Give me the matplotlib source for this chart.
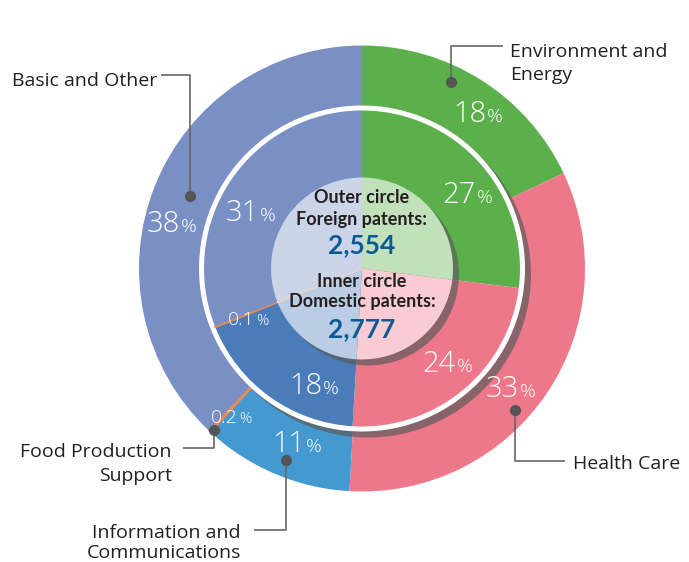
import numpy as np
import matplotlib
matplotlib.use('Agg')
import matplotlib.pyplot as plt
from matplotlib.patches import Circle
from matplotlib.colors import to_rgb

plt.rcParams['font.family'] = ['Open Sans', 'DejaVu Sans']

# categories, clockwise from 12 o'clock
categories = ['Environment and Energy', 'Health Care', 'Information and Communications',
              'Food Production Support', 'Basic and Other']
outer_pct = [18, 33, 11, 0.2, 38]     # foreign patents
inner_pct = [27, 24, 18, 0.1, 31]     # domestic patents
outer_labels = ['18', '33', '11', '0.2', '38']
inner_labels = ['27', '24', '18', '0.1', '31']
foreign_total = '2,554'
domestic_total = '2,777'

outer_colors = ['#5cb04c', '#ec7889', '#4499d0', '#f08a4c', '#7a8fc3']
inner_colors = ['#5cb04c', '#ec7889', '#4a7cba', '#f08a4c', '#7a8fc3']


def light(c, k=0.62):
    r = np.array(to_rgb(c))
    return tuple(r + (1 - r) * k)


center_colors = [light(c) for c in inner_colors]

W, H = 689, 562
fig = plt.figure(figsize=(W / 100, H / 100), dpi=100)
ax = fig.add_axes([0, 0, 1, 1])


def Y(y):
    return H - y


cx, cy = 362, Y(268.5)
R_out, R_white, R_in, R_c = 223, 163, 158, 91
shadow_dx, shadow_dy = 6, -6

wo, _ = ax.pie(outer_pct, radius=R_out, center=(cx, cy), startangle=90, counterclock=False,
               colors=outer_colors, wedgeprops=dict(linewidth=0))
wo[3].set_edgecolor(outer_colors[3])
wo[3].set_linewidth(1.0)

# shadow + white ring behind the inner pie
ax.add_patch(Circle((cx + shadow_dx, cy + shadow_dy), R_white, color='#5c5c5c', alpha=0.7, lw=0))
ax.add_patch(Circle((cx, cy), R_white, color='white', lw=0))

wi, _ = ax.pie(inner_pct, radius=R_in, center=(cx, cy), startangle=90, counterclock=False,
               colors=inner_colors, wedgeprops=dict(linewidth=0))
wi[3].set_edgecolor(inner_colors[3])
wi[3].set_linewidth(1.2)

ax.add_patch(Circle((cx + shadow_dx, cy + shadow_dy), R_c, color='#5c5c5c', alpha=0.7, lw=0))
wc, _ = ax.pie(inner_pct, radius=R_c, center=(cx, cy), startangle=90, counterclock=False,
               colors=center_colors, wedgeprops=dict(linewidth=0))
wc[3].set_edgecolor(center_colors[3])
wc[3].set_linewidth(1.0)

ax.set_xlim(0, W)
ax.set_ylim(0, H)
ax.set_aspect('equal')
ax.axis('off')

# percentage labels: (split x, baseline y, big size, small size)
outer_pos = [(486, 122, 21, 14), (519, 397, 21, 14), (305, 452, 21, 14),
             (238, 423, 14, 11), (180, 232, 21, 14)]
inner_pos = [(476, 203, 21, 14), (456, 372, 21, 14), (322, 394, 21, 14),
             (255, 325, 14, 11), (259, 221, 21, 14)]
for labels, pos in ((outer_labels, outer_pos), (inner_labels, inner_pos)):
    for lab, (x, y, s1, s2) in zip(labels, pos):
        ax.text(x, Y(y), lab, color='white', fontsize=s1, ha='right', va='baseline',
                fontweight='light')
        ax.text(x + 1, Y(y), '%', color='white', fontsize=s2, ha='left', va='baseline',
                fontweight='light')

# leader lines
lc = '#666666'
leaders = {
    'Basic and Other': [(161, 75), (190, 75), (190, 196)],
    'Environment and Energy': [(503, 46), (451, 46), (451, 82)],
    'Health Care': [(565, 461), (515, 461), (515, 410)],
    'Food Production Support': [(183, 448), (214, 448), (214, 430)],
    'Information and Communications': [(254, 530), (286, 530), (286, 460)],
}
for pts in leaders.values():
    xs = [p[0] for p in pts]
    ys = [Y(p[1]) for p in pts]
    ax.plot(xs, ys, color=lc, lw=1.2, solid_capstyle='butt')
    ax.plot(xs[-1], ys[-1], 'o', color='#555555', ms=7)

tc = '#231f20'
fs = 14
ax.text(12, Y(86), 'Basic and Other', fontsize=fs, color=tc, ha='left', va='baseline')
ax.text(510, Y(57), 'Environment and', fontsize=fs, color=tc, ha='left', va='baseline')
ax.text(510, Y(80), 'Energy', fontsize=fs, color=tc, ha='left', va='baseline')
ax.text(573, Y(469), 'Health Care', fontsize=fs, color=tc, ha='left', va='baseline')
ax.text(172, Y(457), 'Food Production', fontsize=fs, color=tc, ha='right', va='baseline')
ax.text(172, Y(481), 'Support', fontsize=fs, color=tc, ha='right', va='baseline')
ax.text(241, Y(538), 'Information and', fontsize=fs, color=tc, ha='right', va='baseline')
ax.text(241, Y(558), 'Communications', fontsize=fs, color=tc, ha='right', va='baseline')

# center text
cf = ['Lato', 'DejaVu Sans']
blue = '#0b5a96'
ax.text(362, Y(203), 'Outer circle', family=cf, fontsize=13, fontweight='bold', color=tc,
        ha='center', va='baseline')
ax.text(362, Y(225), 'Foreign patents:', family=cf, fontsize=13, fontweight='bold', color=tc,
        ha='center', va='baseline')
ax.text(362, Y(253), foreign_total, family=cf, fontsize=19, fontweight='bold', color=blue,
        ha='center', va='baseline')
ax.text(362, Y(287), 'Inner circle', family=cf, fontsize=13, fontweight='bold', color=tc,
        ha='center', va='baseline')
ax.text(362, Y(307), 'Domestic patents:', family=cf, fontsize=13, fontweight='bold', color=tc,
        ha='center', va='baseline')
ax.text(362, Y(337), domestic_total, family=cf, fontsize=19, fontweight='bold', color=blue,
        ha='center', va='baseline')

fig.savefig('out.png', dpi=100)
